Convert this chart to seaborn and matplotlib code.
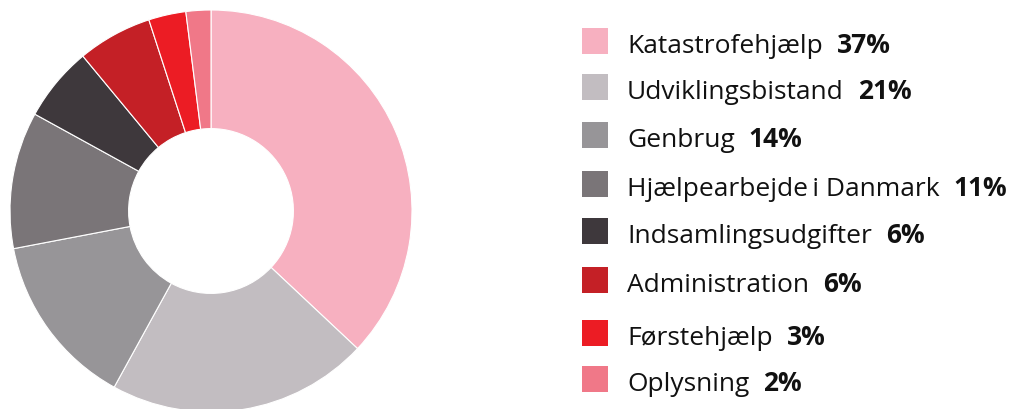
import matplotlib
matplotlib.use("Agg")
import matplotlib.pyplot as plt
import seaborn as sns
from matplotlib.patches import Rectangle

# Data
categories = ["Katastrofehjælp", "Udviklingsbistand", "Genbrug", "Hjælpearbejde\u2009i Danmark",
              "Indsamlingsudgifter", "Administration", "Førstehjælp", "Oplysning"]
shares = [37, 21, 14, 11, 6, 6, 3, 2]
colors = ["#F7B0C0", "#C2BDC1", "#979598", "#7A7578", "#3E383C", "#C42026", "#EC1C24", "#F07888"]

sns.set_style("white")
plt.rcParams['font.family'] = ['Open Sans', 'DejaVu Sans']

W, H = 1016, 410
fig = plt.figure(figsize=(W / 100, H / 100), dpi=100)

# donut axes (centre ~ (211, 212) px, radius ~201 px)
cx, cy, r = 211, 212, 201
ax = fig.add_axes([(cx - r) / W, (H - cy - r) / H, 2 * r / W, 2 * r / H])
palette = sns.color_palette(colors)
ax.pie(shares, colors=palette, startangle=90, counterclock=False, radius=1,
       wedgeprops=dict(width=0.59, edgecolor="white", linewidth=0.8))
ax.set_xlim(-1, 1)
ax.set_ylim(-1, 1)
ax.set_aspect("equal")
ax.axis("off")

# legend drawn in a pixel-space axes
lax = fig.add_axes([0, 0, 1, 1])
lax.set_xlim(0, W)
lax.set_ylim(H, 0)
lax.axis("off")

row_y = [42, 88, 136, 185, 232, 281, 334, 380]
for name, pct, col, y in zip(categories, shares, palette, row_y):
    lax.add_patch(Rectangle((582, y - 13), 26, 26, color=col, lw=0))
    t = lax.text(627, y + 11, name, fontsize=19, color="#111111", va="baseline", ha="left")
    lax.annotate(f"{pct}%", xy=(1, 0), xycoords=t, xytext=(10, 0), textcoords="offset points",
                 fontsize=19, fontweight="bold", color="#111111", va="bottom", ha="left")

fig.savefig("out.png", dpi=100)
